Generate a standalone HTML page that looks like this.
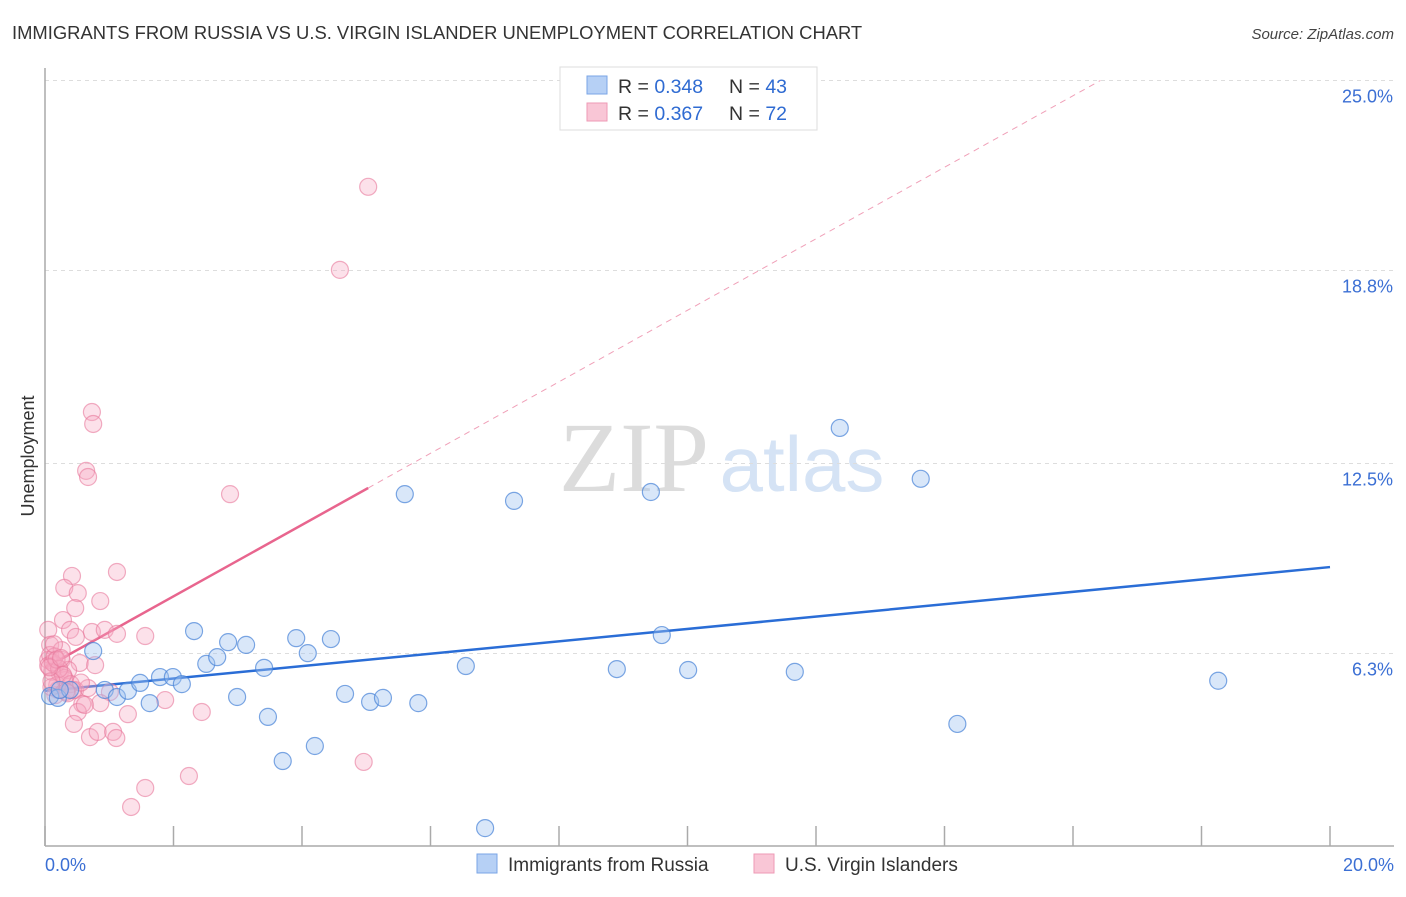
<!DOCTYPE html>
<html><head><meta charset="utf-8"><style>
body{margin:0;background:#fff;font-family:"Liberation Sans",sans-serif;}
</style></head><body>
<svg id="chart" width="1406" height="892" viewBox="0 0 1406 892" xmlns="http://www.w3.org/2000/svg" style="font-family:'Liberation Sans',sans-serif">
<text x="12" y="39" font-size="18.4" fill="#333">IMMIGRANTS FROM RUSSIA VS U.S. VIRGIN ISLANDER UNEMPLOYMENT CORRELATION CHART</text>
<text x="1394" y="39" font-size="15" fill="#444" text-anchor="end" font-style="italic">Source: ZipAtlas.com</text>
<g>
<text x="634" y="491" font-size="100" fill="#dcdcdc" style="font-family:'Liberation Serif',serif" text-anchor="middle">ZIP</text>
<text x="802" y="491" font-size="78" fill="#d5e3f5" text-anchor="middle">atlas</text>
</g>
<g id="grid"></g>
<g id="axes"></g>
<g id="trends"></g>
<g id="points"></g>
<text transform="translate(34,456) rotate(-90)" font-size="18" fill="#333" text-anchor="middle">Unemployment</text>
<text x="45" y="871" font-size="18" fill="#3b6fd4">0.0%</text>
<text x="1394" y="871" font-size="18" fill="#3b6fd4" text-anchor="end">20.0%</text>
<g>
<rect x="560" y="67" width="257" height="63" fill="#fff" stroke="#ddd"/>
<rect x="587" y="76" width="20" height="18" fill="#b6d0f5" stroke="#7aa5e6"/>
<rect x="587" y="103" width="20" height="18" fill="#f9c6d6" stroke="#ee9ab5"/>
<text x="618" y="93" font-size="19.5" fill="#333">R = <tspan fill="#2f6bd2">0.348</tspan><tspan x="729">N = </tspan><tspan fill="#2f6bd2">43</tspan></text>
<text x="618" y="120" font-size="19.5" fill="#333">R = <tspan fill="#2f6bd2">0.367</tspan><tspan x="729">N = </tspan><tspan fill="#2f6bd2">72</tspan></text>
</g>
<g>
<rect x="477" y="854" width="20" height="19" fill="#b6d0f5" stroke="#7aa5e6"/>
<text x="508" y="871" font-size="19" fill="#333">Immigrants from Russia</text>
<rect x="754" y="854" width="20" height="19" fill="#f9c6d6" stroke="#ee9ab5"/>
<text x="785" y="871" font-size="19" fill="#333">U.S. Virgin Islanders</text>
</g>
</svg>
<script>
const yTicks=[6.3,12.5,18.8,25.0];
const yTickLabels=["6.3%","12.5%","18.8%","25.0%"];
const xTicks=[0,2,4,6,8,10,12,14,16,18,20];
const blueX=[0.08,0.20,0.39,0.75,0.93,1.12,1.29,1.48,1.63,1.79,1.99,2.13,2.32,2.51,2.68,2.85,2.99,3.13,3.41,3.47,3.70,3.91,4.09,4.20,4.45,4.67,5.06,5.26,5.60,5.81,6.55,6.85,7.30,8.90,9.43,9.60,10.01,11.67,12.37,13.63,14.20,18.26,0.23];
const blueY=[4.91,4.85,5.11,6.38,5.11,4.88,5.08,5.34,4.68,5.53,5.53,5.30,7.03,5.96,6.18,6.67,4.88,6.58,5.83,4.23,2.79,6.80,6.31,3.28,6.77,4.98,4.72,4.85,11.5,4.68,5.89,0.60,11.28,5.79,11.57,6.90,5.76,5.70,13.66,12.0,4.0,5.41,5.11];
const pinkX=[5.03,4.59,2.88,0.73,0.75,0.64,0.67,1.12,0.42,0.30,0.51,0.47,0.86,0.28,0.39,0.73,0.93,1.12,1.56,0.05,0.08,0.05,0.16,0.26,0.54,0.78,0.23,0.31,0.20,0.47,0.67,1.01,0.58,0.51,0.86,1.87,0.45,1.29,2.44,0.70,0.82,1.06,1.11,2.24,1.56,1.34,4.96,0.16,0.36,0.08,0.11,0.19,0.62,0.26,0.48,0.05,0.12,0.30,0.10,0.15,0.40,0.22,0.35,0.14,0.28,0.10,0.44,0.56,0.18,0.33,0.07,0.25];
const pinkY=[21.53,18.82,11.5,14.18,13.79,12.26,12.06,8.96,8.83,8.44,8.27,7.78,8.01,7.39,7.07,7.00,7.07,6.94,6.87,7.07,6.58,6.09,5.92,6.09,5.99,5.92,5.66,5.43,5.11,5.11,5.17,5.04,4.65,4.39,4.68,4.78,4.0,4.32,4.39,3.57,3.74,3.74,3.54,2.30,1.91,1.29,2.76,4.94,5.76,6.25,5.70,5.27,4.62,6.41,6.84,5.90,6.00,5.50,5.20,6.20,5.30,5.80,5.00,6.60,5.60,5.40,5.10,5.35,6.10,5.05,5.85,6.15];
const blueTrend=[0,5.08,20,9.12];
const pinkTrend=[0,5.83,5.03,11.70];
const X0=45,X1=1330,Y0=846.5,PXY=30.64;
function sx(v){return X0+(X1-X0)*v/20;}
function sy(v){return Y0-v*PXY;}
const NS="http://www.w3.org/2000/svg";
function mk(t,a,p){const e=document.createElementNS(NS,t);for(const k in a)e.setAttribute(k,a[k]);p.appendChild(e);return e;}
const grid=document.getElementById('grid'),axes=document.getElementById('axes'),tr=document.getElementById('trends'),pts=document.getElementById('points');
yTicks.forEach((v,i)=>{
 const ln=mk('line',{x1:45,x2:1394,y1:sy(v),y2:sy(v),stroke:'#ddd','stroke-dasharray':'4,4'},grid);
 
 
 const t=mk('text',{x:1393,y:sy(v)+22,'font-size':18,fill:'#3b6fd4','text-anchor':'end'},grid);
 t.textContent=yTickLabels[i];
 
 
});
const ya=mk('line',{x1:45,x2:45,y1:68,y2:846,stroke:'#aaa','stroke-width':1.5},axes);


const xa=mk('line',{x1:45,x2:1394,y1:846,y2:846,stroke:'#aaa','stroke-width':1.5},axes);


xTicks.forEach(v=>{
 const t=mk('line',{x1:sx(v),x2:sx(v),y1:826,y2:846,stroke:'#aaa','stroke-width':1.5},axes);
 
 
});
pinkX.forEach((x,i)=>{
 const c=mk('circle',{cx:sx(x),cy:sy(pinkY[i]),r:8.5,fill:'rgba(246,170,195,0.35)',stroke:'rgba(232,120,155,0.6)','stroke-width':1.2},pts);
 
 
});
blueX.forEach((x,i)=>{
 const c=mk('circle',{cx:sx(x),cy:sy(blueY[i]),r:8.5,fill:'rgba(160,195,240,0.4)',stroke:'rgba(70,130,215,0.7)','stroke-width':1.2},pts);
 
 
});
const slope=(pinkTrend[3]-pinkTrend[1])/(pinkTrend[2]-pinkTrend[0]);
const xEnd=(25-pinkTrend[1])/slope+pinkTrend[0];
const pd=mk('line',{x1:sx(pinkTrend[2]),y1:sy(pinkTrend[3]),x2:sx(xEnd),y2:sy(25),stroke:'#f0a0b8','stroke-width':1,'stroke-dasharray':'6,5'},tr);


const pl=mk('line',{x1:sx(pinkTrend[0]),y1:sy(pinkTrend[1]),x2:sx(pinkTrend[2]),y2:sy(pinkTrend[3]),stroke:'#e8658e','stroke-width':2.5},tr);


const bl=mk('line',{x1:sx(blueTrend[0]),y1:sy(blueTrend[1]),x2:sx(blueTrend[2]),y2:sy(blueTrend[3]),stroke:'#2a6dd6','stroke-width':2.5},tr);


</script>
</body></html>
